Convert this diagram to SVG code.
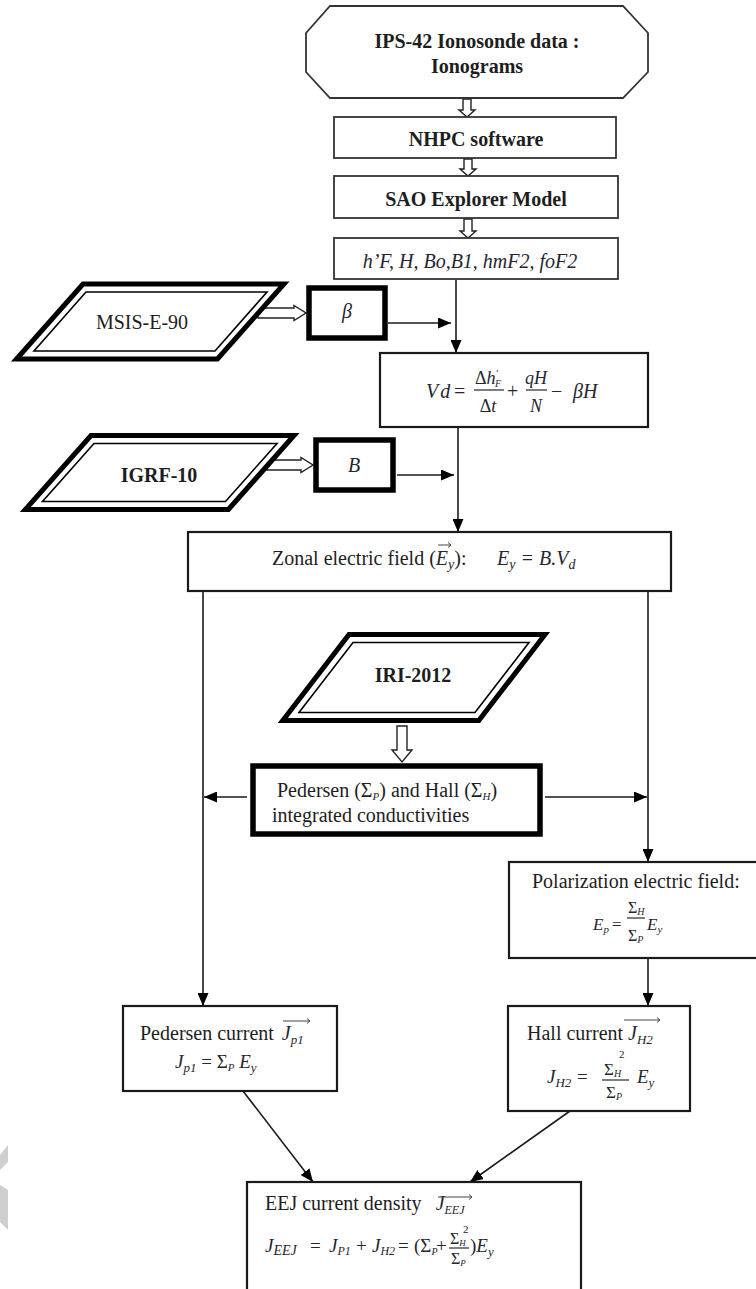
<svg xmlns="http://www.w3.org/2000/svg" width="756" height="1289" viewBox="0 0 756 1289">
<style>
text{font-family:"Liberation Serif","Times New Roman",serif;fill:#1e1e1e;}
.b{font-size:20px;font-weight:bold;}
.r{font-size:20px;}
.i{font-style:italic;}
.m{fill:#262630;}
.box{fill:#fff;stroke:#1a1a1a;stroke-width:2.2;}
.thin{fill:#fff;stroke:#333;stroke-width:1.8;}
.thick{fill:#fff;stroke:#000;stroke-width:5.5;}
.para{fill:#fff;stroke:#000;stroke-width:5;stroke-linejoin:miter;}
.inner{fill:none;stroke:#000;stroke-width:1.6;}
.hollow{fill:#fff;stroke:#222;stroke-width:1.4;}
.conn{fill:none;stroke:#1a1a1a;stroke-width:1.6;}
.fl{stroke:#262630;stroke-width:1.2;}
.vec{fill:none;stroke:#444;stroke-width:1;}
.ghost{fill:#cfcfcf;}
</style>
<defs>
<marker id="ah" markerUnits="userSpaceOnUse" markerWidth="13" markerHeight="11" viewBox="0 0 13 11" refX="13" refY="5.5" orient="auto"><path d="M0,0 L13,5.5 L0,11 z" fill="#000"/></marker>
</defs>
<rect width="756" height="1289" fill="#fff"/>

<g id="connectors">
<line class="conn" x1="456" y1="280" x2="456" y2="353" marker-end="url(#ah)"/>
<line class="conn" x1="388" y1="323" x2="451" y2="323" marker-end="url(#ah)"/>
<line class="conn" x1="458" y1="427" x2="458" y2="532" marker-end="url(#ah)"/>
<line class="conn" x1="397" y1="475" x2="454" y2="475" marker-end="url(#ah)"/>
<line class="conn" x1="203" y1="591" x2="203" y2="1006" marker-end="url(#ah)"/>
<line class="conn" x1="648" y1="591" x2="648" y2="862" marker-end="url(#ah)"/>
<line class="conn" x1="247" y1="797" x2="204" y2="797" marker-end="url(#ah)"/>
<line class="conn" x1="545" y1="797" x2="647" y2="797" marker-end="url(#ah)"/>
<line class="conn" x1="648" y1="958" x2="648" y2="1006" marker-end="url(#ah)"/>
<line class="conn" x1="243" y1="1091" x2="313" y2="1182" marker-end="url(#ah)"/>
<line class="conn" x1="570" y1="1111" x2="470" y2="1182" marker-end="url(#ah)"/>
<path class="hollow" d="M463,99 L471,99 L471,110 L475,110 L467,117 L459,110 L463,110 Z"/>
<path class="hollow" d="M464,159 L472,159 L472,169 L476,169 L468,176 L460,169 L464,169 Z"/>
<path class="hollow" d="M464,219 L472,219 L472,231 L476,231 L468,238 L460,231 L464,231 Z"/>
<path class="hollow" d="M397,726 L407,726 L407,750 L412,750 L402,762 L392,750 L397,750 Z"/>
<path class="hollow" d="M258,308 L294,308 L294,305.5 L306,313 L294,320.5 L294,318 L258,318 Z"/>
<path class="hollow" d="M267,460 L301,460 L301,457.5 L313,465 L301,472.5 L301,470 L267,470 Z"/>
</g>

<g id="ionosonde">
<polygon class="thin" points="330,6 623,6 648,33 648,72 623,98 330,98 306,72 306,33"/>
<text class="b" x="477" y="48" text-anchor="middle">IPS-42 Ionosonde data :</text>
<text class="b" x="477" y="73" text-anchor="middle">Ionograms</text>
</g>

<g id="nhpc">
<rect class="thin" x="334" y="117" width="282" height="41"/>
<text class="b" x="476" y="146" text-anchor="middle">NHPC software</text>
</g>

<g id="sao">
<rect class="thin" x="334" y="176" width="284" height="42"/>
<text class="b" x="476" y="206" text-anchor="middle">SAO Explorer Model</text>
</g>

<g id="params">
<rect class="thin" x="334" y="238" width="284" height="41"/>
<text class="r i m" x="470" y="268" text-anchor="middle">h’F, H, Bo,B1, hmF2, foF2</text>
</g>

<g id="msis">
<polygon class="para" points="83,284 284,284 217.5,359 16.5,359"/>
<polygon class="inner" points="86,292 267,292 215,351 34,351"/>
<text class="r" x="142" y="329" text-anchor="middle">MSIS-E-90</text>
</g>

<g id="beta">
<rect class="thick" x="309" y="288" width="76" height="50"/>
<text class="r i m" x="347" y="318" text-anchor="middle">β</text>
</g>

<g id="vd">
<rect class="box" x="380" y="353" width="268" height="74"/>
<text class="r i m" x="426" y="398">V<tspan dx="2">d</tspan></text>
<text class="r m" x="454" y="398">=</text>
<text class="i m" font-size="18" x="475" y="384"><tspan font-style="normal">Δ</tspan>h<tspan font-size="11" dy="-7">′</tspan><tspan font-size="10" dx="-3" dy="10">F</tspan></text>
<line class="fl" x1="474" y1="390" x2="504" y2="390"/>
<text class="i m" font-size="18" x="488" y="412" text-anchor="middle"><tspan font-style="normal">Δ</tspan>t</text>
<text class="r m" x="507" y="398">+</text>
<text class="i m" font-size="18" x="536" y="384" text-anchor="middle">qH</text>
<line class="fl" x1="526" y1="390" x2="547" y2="390"/>
<text class="i m" font-size="18" x="536" y="412" text-anchor="middle">N</text>
<text class="r m" x="551" y="398">−</text>
<text class="r i m" x="573" y="398">βH</text>
</g>

<g id="igrf">
<polygon class="para" points="91,435.5 294,435.5 228.4,509.5 25.4,509.5"/>
<polygon class="inner" points="94,443.5 277,443.5 225.5,501.5 42.5,501.5"/>
<text class="b" x="159" y="482" text-anchor="middle">IGRF-10</text>
</g>

<g id="bfield">
<rect class="thick" x="316" y="440" width="77" height="50"/>
<text class="r i m" x="354" y="472" text-anchor="middle">B</text>
</g>

<g id="zonal">
<rect class="box" x="188" y="532" width="483" height="59"/>
<text class="r" x="272" y="565">Zonal electric field (<tspan class="i m">E</tspan><tspan class="i m" font-size="14" dy="4">y</tspan><tspan dy="-4">):</tspan></text>
<path class="vec" d="M438,545 L451,545 M448,542.5 L451,545 L448,547.5"/>
<text class="r i m" x="497" y="565">E<tspan font-size="14" dy="4">y</tspan><tspan dy="-4"> = B.V</tspan><tspan font-size="14" dy="4">d</tspan></text>
</g>

<g id="iri">
<polygon class="para" points="349,634.5 545,634.5 478.8,720.5 282.8,720.5"/>
<polygon class="inner" points="353,642.5 529,642.5 475,712.5 299,712.5"/>
<text class="b" x="413" y="682" text-anchor="middle">IRI-2012</text>
</g>

<g id="conductivities">
<rect class="thick" x="253" y="766" width="287" height="68"/>
<text class="r" x="277" y="797">Pedersen (Σ<tspan class="i m" font-size="11" dy="3">P</tspan><tspan dy="-3">) and Hall (Σ</tspan><tspan class="i m" font-size="11" dy="3">H</tspan><tspan dy="-3">)</tspan></text>
<text class="r" x="272" y="822">integrated conductivities</text>
</g>

<g id="polarization">
<rect class="box" x="509" y="862" width="252" height="96"/>
<text class="r" x="532" y="888">Polarization electric field:</text>
<text class="i m" font-size="17" x="593" y="930">E<tspan font-size="11" dy="3">p</tspan></text>
<text class="m" font-size="17" x="612" y="930">=</text>
<text class="m" font-size="16" x="628" y="913">Σ<tspan class="i" font-size="10" dy="2">H</tspan></text>
<line class="fl" x1="627" y1="918" x2="645" y2="918"/>
<text class="m" font-size="16" x="628" y="941">Σ<tspan class="i" font-size="10" dy="2">P</tspan></text>
<text class="i m" font-size="17" x="647" y="930">E<tspan font-size="11" dy="3">y</tspan></text>
</g>

<g id="pedersen-current">
<rect class="box" x="123" y="1006" width="214" height="85"/>
<text class="r" x="140" y="1040">Pedersen current <tspan class="i m" dx="3">J</tspan><tspan class="i m" font-size="13" dy="4">p1</tspan></text>
<path class="vec" d="M283,1021 L310,1021 M307,1018.5 L310,1021 L307,1023.5"/>
<text class="i m" font-size="19" x="175" y="1068">J<tspan font-size="13" dy="4">p1</tspan><tspan dy="-4" font-style="normal"> = Σ</tspan><tspan font-size="11" dy="3">P</tspan><tspan dy="-3"> E</tspan><tspan font-size="13" dy="4">y</tspan></text>
</g>

<g id="hall-current">
<rect class="box" x="508" y="1006" width="182" height="105"/>
<text class="r" x="527" y="1040">Hall current <tspan class="i m">J</tspan><tspan class="i m" font-size="13" dy="4">H2</tspan></text>
<path class="vec" d="M624,1020 L660,1020 M657,1017.5 L660,1020 L657,1022.5"/>
<text class="i m" font-size="19" x="547" y="1083">J<tspan font-size="13" dy="4">H2</tspan></text>
<text class="m" font-size="19" x="577" y="1083">=</text>
<text class="m" font-size="17" x="604" y="1075">Σ<tspan class="i" font-size="10" dy="2">H</tspan></text>
<text class="m" font-size="11" x="619" y="1058">2</text>
<line class="fl" x1="602" y1="1080" x2="629" y2="1080"/>
<text class="m" font-size="17" x="606" y="1098">Σ<tspan class="i" font-size="10" dy="2">P</tspan></text>
<text class="i m" font-size="19" x="637" y="1083">E<tspan font-size="13" dy="4">y</tspan></text>
</g>

<g id="eej">
<rect class="box" x="247" y="1182" width="334" height="112"/>
<text class="r" x="265" y="1210">EEJ current density <tspan class="i m" dx="9">J</tspan><tspan class="i m" font-size="12" dy="4">EEJ</tspan></text>
<path class="vec" d="M438,1197 L472,1197 M469,1194.5 L472,1197 L469,1199.5"/>
<text class="i m" font-size="19" x="265" y="1252">J<tspan font-size="14" dy="3">EEJ</tspan></text>
<text class="m" font-size="19" x="310" y="1252">=</text>
<text class="i m" font-size="19" x="329" y="1252">J<tspan font-size="12" dy="3">P1</tspan></text>
<text class="m" font-size="19" x="356" y="1252">+</text>
<text class="i m" font-size="19" x="372" y="1252">J<tspan font-size="12" dy="3">H2</tspan></text>
<text class="m" font-size="19" x="398" y="1252">=</text>
<text class="m" font-size="19" x="414" y="1252">(Σ<tspan class="i" font-size="10" dy="3">P</tspan></text>
<text class="m" font-size="19" x="436" y="1252">+</text>
<text class="m" font-size="16" x="450" y="1244">Σ<tspan class="i" font-size="9" dy="2">H</tspan></text>
<text class="m" font-size="11" x="463" y="1233">2</text>
<line class="fl" x1="449" y1="1248" x2="469" y2="1248"/>
<text class="m" font-size="16" x="451" y="1264">Σ<tspan class="i" font-size="9" dy="2">P</tspan></text>
<text class="m" font-size="19" x="470" y="1252">)<tspan class="i">E</tspan><tspan class="i" font-size="13" dy="4">y</tspan></text>
</g>

<polygon class="ghost" points="8,1145 8,1162 0,1170 0,1155"/>
<polygon class="ghost" points="0,1185 8,1190 8,1230 0,1222"/>
</svg>
